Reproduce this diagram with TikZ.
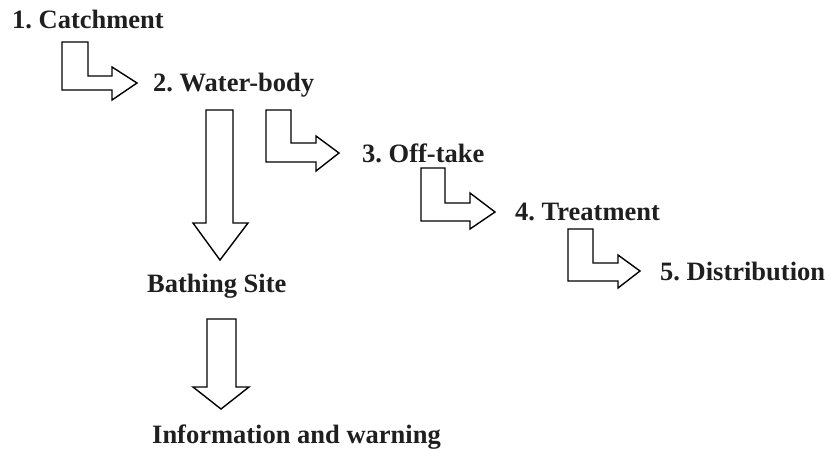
\documentclass[tikz,border=0pt]{standalone}
\usepackage{fontspec}
\setmainfont{Liberation Serif}
\frenchspacing
\begin{document}
\begin{tikzpicture}[x=1pt,y=-1pt,
  blockarrow/.style={draw=black,line width=1.4pt,line join=miter,fill=white},
  lbl/.style={anchor=base west,inner sep=0pt,font=\fontsize{26.5}{30}\selectfont\bfseries,text=black!88}]
\useasboundingbox (0,0) rectangle (825,448);
% labels
\node[lbl] (c1) at (12,28) {1. Catchment};
\node[lbl] (c2) at (153,91) {2. Water-body};
\node[lbl] (c3) at (362,162) {3. Off-take};
\node[lbl] (c4) at (515,220) {4. Treatment};
\node[lbl] (c5) at (660,280) {5. Distribution};
\node[lbl] (bs) at (147,292) {Bathing Site};
\node[lbl] (iw) at (152,443) {Information and warning};
% bent block arrows
\draw[blockarrow] (62,42)--(88,42)--(88,76)--(112,76)--(112,67)--(137,83)--(112,100)--(112,90)--(62,90)--cycle;
\draw[blockarrow] (266,110)--(291,110)--(291,143)--(316,143)--(316,136)--(339,153)--(316,171)--(316,162)--(266,162)--cycle;
\draw[blockarrow] (421,168)--(445,168)--(445,203)--(470,203)--(470,193)--(495,212)--(470,229)--(470,221)--(421,221)--cycle;
\draw[blockarrow] (568,229)--(593,229)--(593,263)--(618,263)--(618,255)--(640,271)--(618,288)--(618,281)--(568,281)--cycle;
% down block arrows
\draw[blockarrow] (206,110)--(233,110)--(233,223)--(248,223)--(220,260)--(193,223)--(206,223)--cycle;
\draw[blockarrow] (207,319)--(236,319)--(236,387)--(249,387)--(221,409)--(193,387)--(207,387)--cycle;
\end{tikzpicture}
\end{document}
